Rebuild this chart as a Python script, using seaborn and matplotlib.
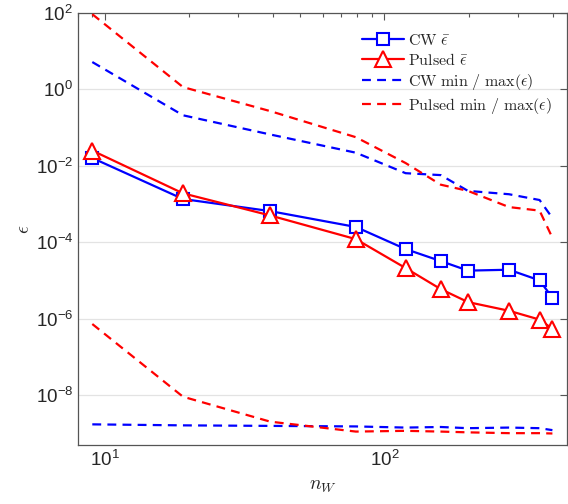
import numpy as np
import pandas as pd
import seaborn as sns
import matplotlib
matplotlib.use("Agg")
import matplotlib.pyplot as plt
from matplotlib.ticker import LogLocator, NullLocator, NullFormatter

# ---- data ----
n_w = [9, 19, 39, 79, 119, 159, 199, 279, 359, 399]
cw_mean = [1.6e-2, 1.35e-3, 6.5e-4, 2.5e-4, 6.6e-5, 3.2e-5, 1.8e-5, 1.9e-5, 1.0e-5, 3.5e-6]
pulsed_mean = [2.5e-2, 1.9e-3, 5.0e-4, 1.2e-4, 2.1e-5, 5.9e-6, 2.7e-6, 1.6e-6, 9.4e-7, 5.4e-7]
cw_max = [5.2, 0.21, 0.066, 0.022, 6.4e-3, 5.7e-3, 2.2e-3, 1.8e-3, 1.27e-3, 4.3e-4]
pulsed_max = [93, 1.15, 0.27, 0.056, 0.0118, 3.2e-3, 2.2e-3, 8.3e-4, 6.7e-4, 1.3e-4]
cw_min = [1.7e-9, 1.6e-9, 1.55e-9, 1.5e-9, 1.4e-9, 1.45e-9, 1.35e-9, 1.4e-9, 1.35e-9, 1.2e-9]
pulsed_min = [7.2e-7, 9e-9, 2e-9, 1.1e-9, 1.15e-9, 1.1e-9, 1.05e-9, 1.0e-9, 1.0e-9, 0.98e-9]

labels = [r"$\mathrm{CW}\ \bar{\epsilon}$", r"$\mathrm{Pulsed}\ \bar{\epsilon}$",
          r"$\mathrm{CW\ min\ /\ max}(\epsilon)$", r"$\mathrm{Pulsed\ min\ /\ max}(\epsilon)$"]

sns.set_style("white")
plt.rcParams["font.family"] = ["Liberation Sans", "DejaVu Sans"]
plt.rcParams["mathtext.fontset"] = "cm"

fig = plt.figure(figsize=(5.68, 5.04), dpi=100)
ax = fig.add_axes([78 / 568, 59 / 504, 489 / 568, 432 / 504])

blue = "#0000ff"
red = "#ff0000"
dash = (0, (4, 2.8))

df = pd.DataFrame({"n": n_w, "cw_mean": cw_mean, "pulsed_mean": pulsed_mean,
                   "cw_max": cw_max, "pulsed_max": pulsed_max,
                   "cw_min": cw_min, "pulsed_min": pulsed_min})

sns.lineplot(data=df, x="n", y="cw_mean", ax=ax, color=blue, lw=1.6, marker="s",
             markersize=8.5, markerfacecolor="white", markeredgecolor=blue,
             markeredgewidth=1.5, label=labels[0], zorder=4)
sns.lineplot(data=df, x="n", y="pulsed_mean", ax=ax, color=red, lw=1.6, marker="^",
             markersize=11, markerfacecolor="white", markeredgecolor=red,
             markeredgewidth=1.5, label=labels[1], zorder=5)
sns.lineplot(data=df, x="n", y="cw_max", ax=ax, color=blue, lw=1.6, linestyle=dash,
             label=labels[2], zorder=3)
sns.lineplot(data=df, x="n", y="pulsed_max", ax=ax, color=red, lw=1.6, linestyle=dash,
             label=labels[3], zorder=3)
sns.lineplot(data=df, x="n", y="cw_min", ax=ax, color=blue, lw=1.6, linestyle=dash,
             zorder=3, legend=False)
sns.lineplot(data=df, x="n", y="pulsed_min", ax=ax, color=red, lw=1.6, linestyle=dash,
             zorder=3, legend=False)

ax.set_xscale("log")
ax.set_yscale("log")
ax.set_xlim(8, 450)
ax.set_ylim(10 ** -9.31, 1e2)

ax.yaxis.set_major_locator(LogLocator(base=100, numticks=20))
ax.yaxis.set_minor_locator(NullLocator())
ax.xaxis.set_major_locator(LogLocator(base=10, numticks=10))
ax.xaxis.set_minor_locator(LogLocator(base=10, subs=np.arange(2, 10), numticks=10))
ax.xaxis.set_minor_formatter(NullFormatter())
ax.yaxis.set_minor_formatter(NullFormatter())

ax.grid(True, axis="y", which="major", color="#e3e3e3", lw=0.9)
ax.grid(False, axis="x")
ax.set_axisbelow(True)

tick_col = "#262626"
ax.tick_params(which="both", direction="in", top=True, right=True, colors="#555555",
               labelcolor=tick_col, labelsize=13.5)
ax.tick_params(which="major", length=5, width=0.8)
ax.tick_params(which="minor", length=3, width=0.8)
for s in ax.spines.values():
    s.set_color("#555555")
    s.set_linewidth(0.9)

ax.set_xlabel(r"$n_W$", fontsize=14, color=tick_col, labelpad=6)
ax.set_ylabel(r"$\epsilon$", fontsize=14, color=tick_col, labelpad=2)

ax.legend(loc="upper left", bbox_to_anchor=((362 - 78) / 489, (445 - 33) / 432),
          frameon=False, fontsize=11.5, handlelength=2.6, handletextpad=0.3,
          borderpad=0, borderaxespad=0, labelspacing=0.25, numpoints=1)

fig.savefig("out.png", dpi=100)
